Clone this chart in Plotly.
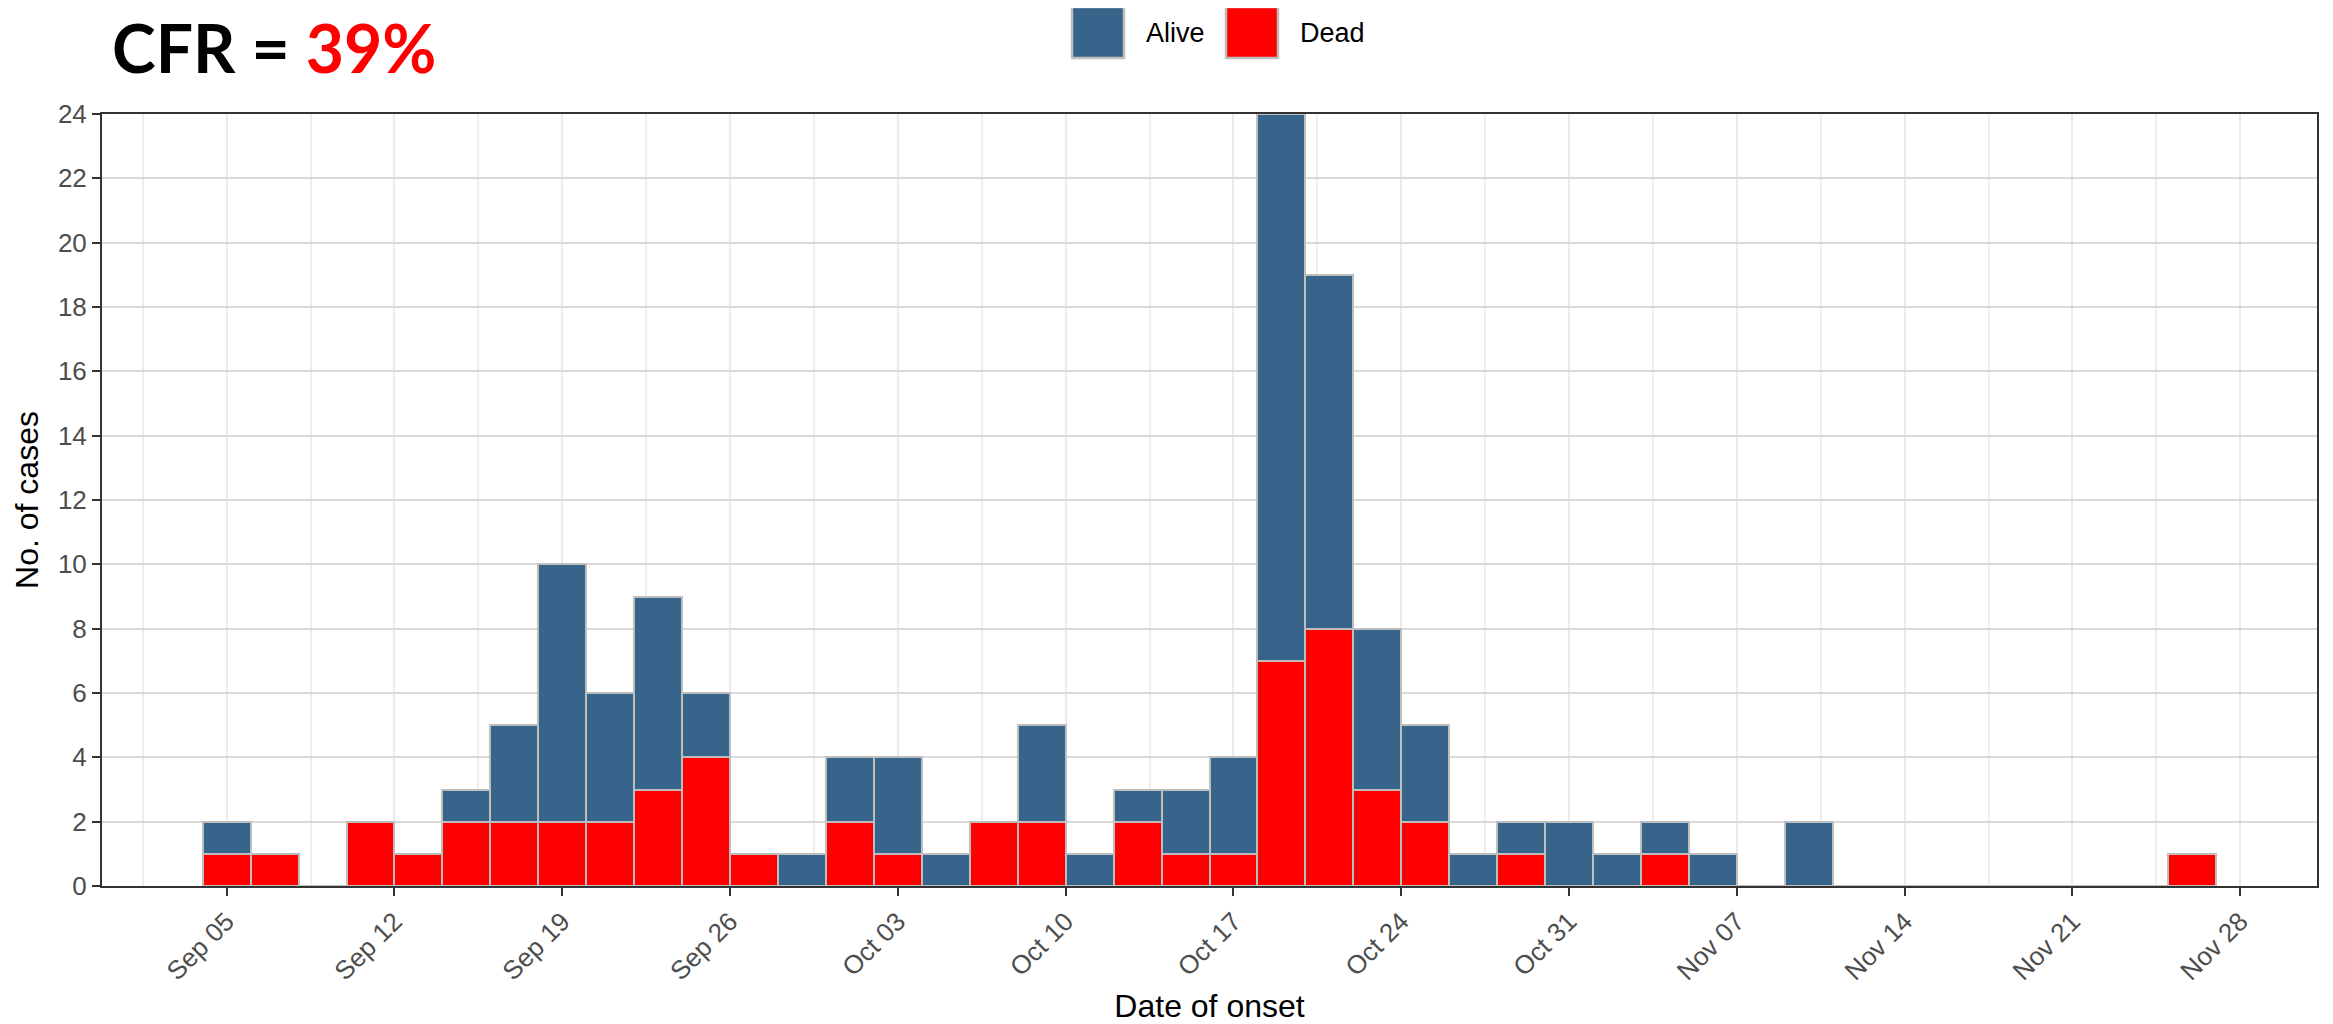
import plotly.graph_objects as go
from datetime import datetime, timedelta

# ---- data (2-day bins, labelled by bin centre) ----
bin_start = "2018-09-05"
n_bins = 42
dead = [1, 1, 0, 2, 1, 2, 2, 2, 2, 3, 4, 1, 0, 2, 1, 0, 2, 2, 0, 2, 1,
        1, 7, 8, 3, 2, 0, 1, 0, 0, 1, 0, 0, 0, 0, 0, 0, 0, 0, 0, 0, 1]
alive = [1, 0, 0, 0, 0, 1, 3, 8, 4, 6, 2, 0, 1, 2, 3, 1, 0, 3, 1, 1, 2,
         3, 17, 11, 5, 3, 1, 1, 2, 1, 1, 1, 0, 2, 0, 0, 0, 0, 0, 0, 0, 0]
tick_dates = ["2018-09-05", "2018-09-12", "2018-09-19", "2018-09-26", "2018-10-03",
              "2018-10-10", "2018-10-17", "2018-10-24", "2018-10-31", "2018-11-07",
              "2018-11-14", "2018-11-21", "2018-11-28"]
y_ticks = list(range(0, 25, 2))
series_names = ["Alive", "Dead"]
series_colors = ["#37648A", "#FF0000"]
cfr_text = "39%"

start = datetime.strptime(bin_start, "%Y-%m-%d")
centres = [start + timedelta(days=2 * i) for i in range(n_bins)]
bin_width_ms = 2 * 86400000

# the page body adds an 8px offset; size the figure to compensate
OFF = 8
W, H = 2333 - OFF, 1024 - OFF
L, R, T, B = 102 - OFF, 16, 114 - OFF, 138
PW, PH = W - L - R, H - T - B


def px(x):
    return (x - OFF - L) / PW


def py(y):
    return (H - B - (y - OFF)) / PH


font = "Liberation Sans, Arial, sans-serif"
edge = "#BEBEBE"

fig = go.Figure()
fig.add_trace(go.Bar(x=centres, y=dead, name=series_names[1], width=bin_width_ms,
                     marker=dict(color=series_colors[1], line=dict(color=edge, width=2)),
                     showlegend=False))
fig.add_trace(go.Bar(x=centres, y=alive, name=series_names[0], width=bin_width_ms,
                     marker=dict(color=series_colors[0], line=dict(color=edge, width=2)),
                     showlegend=False))

x_range = [datetime(2018, 8, 30, 19, 12), datetime(2018, 12, 1, 4, 48)]

fig.update_layout(
    width=W, height=H,
    margin=dict(l=L, r=R, t=T, b=B, autoexpand=False),
    barmode="stack", bargap=0,
    paper_bgcolor="white", plot_bgcolor="white",
    font=dict(family=font, color="black"),
    xaxis=dict(
        type="date", range=x_range, automargin=False,
        tickvals=tick_dates, tickformat="%b %d", tickangle=-45,
        tickfont=dict(size=26, color="#4D4D4D"),
        ticks="outside", ticklen=8, tickwidth=2, tickcolor="#333333",
        showgrid=True, gridcolor="#EBEBEB", gridwidth=2,
        minor=dict(tick0="2018-09-01 12:00", dtick=7 * 86400000, showgrid=True,
                   gridcolor="#EEEEEE", gridwidth=1.5, ticks=""),
        showline=True, linecolor="#333333", linewidth=2, mirror=True,
        zeroline=False,
        title=dict(text="Date of onset", font=dict(size=32, color="black"), standoff=14),
    ),
    yaxis=dict(
        range=[0, 24], tickvals=y_ticks, automargin=False,
        tickfont=dict(size=26, color="#4D4D4D"),
        ticks="outside", ticklen=8, tickwidth=2, tickcolor="#333333",
        showgrid=True, gridcolor="#D9D9D9", gridwidth=2,
        showline=True, linecolor="#333333", linewidth=2, mirror=True,
        zeroline=False,
        title=dict(text="No. of cases", font=dict(size=32, color="black"), standoff=10),
    ),
)

# CFR title
fig.add_annotation(
    xref="paper", yref="paper", x=px(110), y=py(48), xanchor="left", yanchor="middle",
    text="<b>CFR = <span style='color:#FF0000'>" + cfr_text + "</span></b>",
    showarrow=False, font=dict(family="Lato, Open Sans, sans-serif", size=66, color="black"),
)

# custom legend (large keys, as in the reference)
legend_boxes = [(1072, 1124), (1226, 1278)]
for (x0, x1), name, col in zip(legend_boxes, series_names, series_colors):
    fig.add_shape(type="rect", xref="paper", yref="paper",
                  x0=px(x0), x1=px(x1), y0=py(58), y1=py(7),
                  fillcolor=col, line=dict(color=edge, width=2.5))
    fig.add_annotation(xref="paper", yref="paper", x=px(x1 + 20), y=py(33),
                       xanchor="left", yanchor="middle", text=name, showarrow=False,
                       font=dict(family=font, size=27, color="black"))

fig.write_html("out.html")
